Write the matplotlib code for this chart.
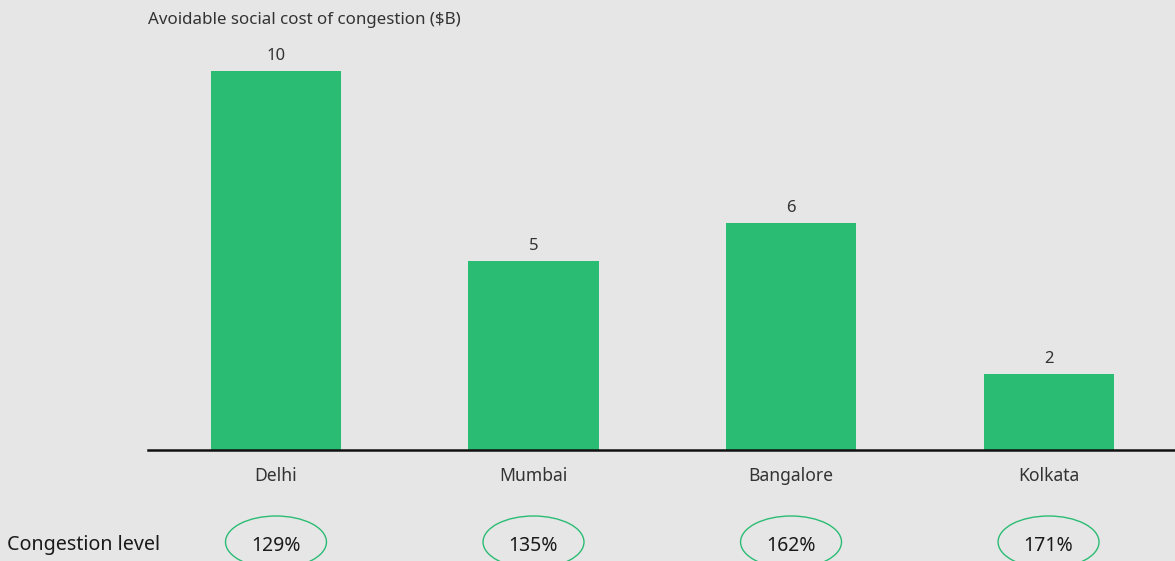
import matplotlib
matplotlib.use("Agg")
import matplotlib.pyplot as plt
from matplotlib.patches import Ellipse
import matplotlib.transforms as mtransforms

cities = ["Delhi", "Mumbai", "Bangalore", "Kolkata"]
social_cost = [10, 5, 6, 2]
congestion = ["129%", "135%", "162%", "171%"]

BG = "#e6e6e6"
GREEN = "#2bbc74"
TEXT = "#333333"

plt.rcParams["font.family"] = ["Noto Sans", "DejaVu Sans"]

W, H = 1175, 561
fig = plt.figure(figsize=(W / 100, H / 100), dpi=100, facecolor=BG)

# axes spans from the baseline (y=450px) up to the top of the tallest bar
left, right = 148 / W, 1.0
bottom, top = 1 - 450 / H, 1 - 71 / H
ax = fig.add_axes([left, bottom, right - left, top - bottom])
ax.set_facecolor(BG)

x = list(range(len(cities)))
ax.bar(x, social_cost, width=0.505, color=GREEN, zorder=2)
ax.set_xlim(-0.497, 3.491)
ax.set_ylim(0, 10)

for xi, v in zip(x, social_cost):
    ax.annotate(str(v), (xi, v), xytext=(0, 5), textcoords="offset points",
                ha="center", va="bottom", fontsize=12, color=TEXT,
                fontweight="light", clip_on=False)

for s in ["top", "right", "left"]:
    ax.spines[s].set_visible(False)
ax.spines["bottom"].set_color("#111111")
ax.spines["bottom"].set_linewidth(1.8)
ax.set_yticks([])
ax.set_xticks(x)
ax.set_xticklabels(cities, fontsize=12.6, color=TEXT, fontweight="light")
ax.tick_params(axis="x", length=0, pad=12)

fig.text(148 / W, 1 - 20 / H, "Avoidable social cost of congestion ($B)",
         ha="left", va="center", fontsize=12.2, color=TEXT, fontweight="light")

fig.text(7 / W, 1 - 545 / H, "Congestion level", ha="left", va="center",
         fontsize=14.2, color="#1a1a1a")

# congestion level badges: x in data units, y in figure fraction
blend = mtransforms.blended_transform_factory(ax.transData, fig.transFigure)
for xi, lab in zip(x, congestion):
    e = Ellipse((xi, 1 - 542 / H), width=0.392, height=52 / H,
                transform=blend, facecolor="none", edgecolor=GREEN,
                linewidth=1.0, clip_on=False)
    fig.add_artist(e)
    t = fig.text(0, 1 - 546 / H, lab, transform=blend, ha="center",
                 va="center", fontsize=14, color="#1a1a1a")
    t.set_x(xi)

fig.savefig("out.png", dpi=100, facecolor=BG)
